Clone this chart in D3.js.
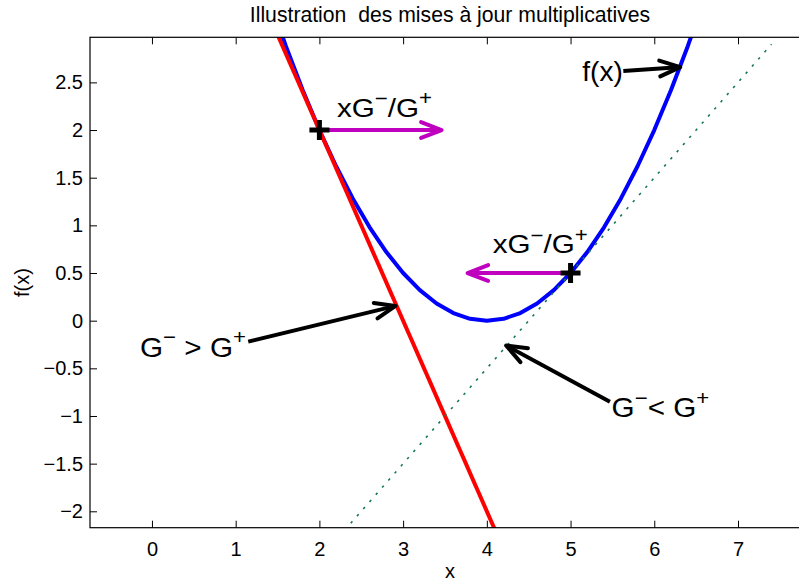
<!DOCTYPE html>
<html>
<head>
<meta charset="utf-8">
<script src="https://cdn.jsdelivr.net/npm/d3@7"></script>
<style>
  html, body { margin: 0; padding: 0; background: #fff; }
  svg { display: block; font-family: "Liberation Sans", Arial, Helvetica, sans-serif; }
  text { white-space: pre; }
</style>
</head>
<body>
<svg id="chart" width="799" height="583"></svg>
<script>
// f(x) = (x - 4)^2 / 2 sampled every 0.2
const curveX = [1.4, 1.6, 1.8, 2.0, 2.2, 2.4, 2.6, 2.8, 3.0, 3.2, 3.4, 3.6, 3.8, 4.0,
                4.2, 4.4, 4.6, 4.8, 5.0, 5.2, 5.4, 5.6, 5.8, 6.0, 6.2, 6.4, 6.6];
const curveY = [3.38, 2.88, 2.42, 2.0, 1.62, 1.28, 0.98, 0.72, 0.5, 0.32, 0.18, 0.08, 0.02, 0,
                0.02, 0.08, 0.18, 0.32, 0.5, 0.72, 0.98, 1.28, 1.62, 2.0, 2.42, 2.88, 3.38];

// tangent at x = 2 (slope -2) and tangent at x = 5 (slope 1)
const tangentLeftX = [1.0, 4.5];
const tangentLeftY = [4.0, -3.0];
const tangentRightX = [2.0, 7.4];
const tangentRightY = [-2.5, 2.9];

// current points
const pointX = [2, 5];
const pointY = [2, 0.5];

// multiplicative step arrows [x1, y1, x2, y2]
const stepArrows = [[2.0, 2.0, 3.46, 2.0], [5.0, 0.5, 3.77, 0.5]];
// pointer arrows [x1, y1, x2, y2]
const pointerArrows = [[5.63, 2.62, 6.31, 2.66], [1.15, -0.22, 2.91, 0.155], [5.47, -0.85, 4.23, -0.26]];

const xTicks = [0, 1, 2, 3, 4, 5, 6, 7];
const yTicks = [-2, -1.5, -1, -0.5, 0, 0.5, 1, 1.5, 2, 2.5];

const titleText = "Illustration  des mises à jour multiplicatives";
const xLabel = "x";
const yLabel = "f(x)";

// text annotations: anchor (data units), pieces with superscripts
const smallNotes = [
  { x: 2.21, y: 2.14, parts: [["xG"], ["−", 1], ["/G"], ["+", 1]] },
  { x: 4.07, y: 0.707, parts: [["xG"], ["−", 1], ["/G"], ["+", 1]] }
];
const bigNotes = [
  { x: 5.14, y: 2.515, parts: [["f(x)"]] },
  { x: -0.143, y: -0.378, parts: [["G"], ["−", 1], [" > G"], ["+", 1]] },
  { x: 5.49, y: -1.014, parts: [["G"], ["−", 1], ["< G"], ["+", 1]] }
];

const svg = d3.select("#chart");
const W = 799, H = 583;
const plot = { left: 90, right: 810, top: 37.3, bottom: 527.7 };

const x = d3.scaleLinear().domain([-0.74, 7.86]).range([plot.left, plot.right]);
const y = d3.scaleLinear().domain([-2.172, 2.973]).range([plot.bottom, plot.top]);

svg.append("rect").attr("width", W).attr("height", H).attr("fill", "#fff");

svg.append("defs").append("clipPath").attr("id", "plotClip")
  .append("rect")
  .attr("x", plot.left).attr("y", plot.top)
  .attr("width", plot.right - plot.left).attr("height", plot.bottom - plot.top);

const g = svg.append("g").attr("clip-path", "url(#plotClip)");
const line = d3.line().x(d => x(d[0])).y(d => y(d[1]));

g.append("path")
  .attr("d", line(d3.zip(curveX, curveY)))
  .attr("fill", "none").attr("stroke", "#0000ff").attr("stroke-width", 4)
  .attr("stroke-linejoin", "round");

g.append("path")
  .attr("d", line(d3.zip(tangentLeftX, tangentLeftY)))
  .attr("fill", "none").attr("stroke", "#ff0000").attr("stroke-width", 4);

g.append("path")
  .attr("d", line(d3.zip(tangentRightX, tangentRightY)))
  .attr("fill", "none").attr("stroke", "#157a52").attr("stroke-width", 1.6)
  .attr("stroke-dasharray", "2.5,7");

// arrows drawn as shaft + open chevron head
function drawArrow(parent, a, color) {
  const x1 = x(a[0]), y1 = y(a[1]), x2 = x(a[2]), y2 = y(a[3]);
  const ang = Math.atan2(y2 - y1, x2 - x1);
  const len = 22, spread = 21 * Math.PI / 180;
  const h1 = [x2 - len * Math.cos(ang - spread), y2 - len * Math.sin(ang - spread)];
  const h2 = [x2 - len * Math.cos(ang + spread), y2 - len * Math.sin(ang + spread)];
  const grp = parent.append("g").attr("stroke", color).attr("fill", "none")
    .attr("stroke-width", 4);
  grp.append("line").attr("x1", x1).attr("y1", y1).attr("x2", x2 - 2 * Math.cos(ang)).attr("y2", y2 - 2 * Math.sin(ang));
  grp.append("path")
    .attr("d", `M${h1[0]},${h1[1]}L${x2},${y2}L${h2[0]},${h2[1]}`)
    .attr("stroke-linejoin", "round").attr("stroke-linecap", "round");
}

stepArrows.forEach(a => drawArrow(svg, a, "#bf00bf"));

// plus markers
const plusSize = 10;
pointX.forEach((px, i) => {
  const cx = x(px), cy = y(pointY[i]);
  svg.append("path")
    .attr("d", `M${cx - plusSize},${cy}H${cx + plusSize}M${cx},${cy - plusSize}V${cy + plusSize}`)
    .attr("stroke", "#000").attr("stroke-width", 5).attr("fill", "none");
});

pointerArrows.forEach(a => drawArrow(svg, a, "#000"));

// axes frame
const frame = svg.append("g").attr("stroke", "#000").attr("stroke-width", 1.2).attr("fill", "none");
frame.append("rect")
  .attr("x", plot.left).attr("y", plot.top)
  .attr("width", plot.right - plot.left).attr("height", plot.bottom - plot.top);

// ticks pointing inward on all sides
const tickLen = 7;
const fmt = d => d3.format("")(d).replace("-", "−");
const xAxisB = d3.axisBottom(x).tickValues(xTicks).tickSize(-tickLen).tickPadding(14).tickFormat(fmt);
const xAxisT = d3.axisTop(x).tickValues(xTicks).tickSize(-tickLen).tickFormat("");
const yAxisL = d3.axisLeft(y).tickValues(yTicks).tickSize(-tickLen).tickPadding(7).tickFormat(fmt);
const yAxisR = d3.axisRight(y).tickValues(yTicks).tickSize(-tickLen).tickFormat("");

function styleAxis(sel) {
  sel.select(".domain").remove();
  sel.selectAll(".tick line").attr("stroke", "#000").attr("stroke-width", 1);
  sel.selectAll(".tick text").attr("fill", "#000").attr("font-size", 20)
    .attr("font-family", "Liberation Sans, Arial, sans-serif");
}
svg.append("g").attr("transform", `translate(0,${plot.bottom})`).call(xAxisB).call(styleAxis);
svg.append("g").attr("transform", `translate(0,${plot.top})`).call(xAxisT).call(styleAxis);
svg.append("g").attr("transform", `translate(${plot.left},0)`).call(yAxisL).call(styleAxis);
svg.append("g").attr("transform", `translate(${plot.right},0)`).call(yAxisR).call(styleAxis);

// title and axis labels
svg.append("text").attr("x", (plot.left + plot.right) / 2).attr("y", 21.5)
  .attr("text-anchor", "middle").attr("font-size", 21.2).text(titleText);
svg.append("text").attr("x", (plot.left + plot.right) / 2).attr("y", 578)
  .attr("text-anchor", "middle").attr("font-size", 20).text(xLabel);
svg.append("text").attr("transform", `translate(29,${(plot.top + plot.bottom) / 2}) rotate(-90)`)
  .attr("text-anchor", "middle").attr("font-size", 20).text(yLabel);

// annotations with superscripts, slightly widened like the TeX renderer
function drawNote(n, size, widen) {
  const px = x(n.x), py = y(n.y);
  const t = svg.append("text")
    .attr("transform", `translate(${px},${py}) scale(${widen},1)`)
    .attr("font-size", size);
  let shift = 0;
  n.parts.forEach(p => {
    const sup = p[1] === 1;
    const target = sup ? -0.45 * size : 0;
    t.append("tspan")
      .attr("dy", target - shift)
      .attr("font-size", sup ? size * 0.75 : size)
      .text(p[0]);
    shift = target;
  });
}
smallNotes.forEach(n => drawNote(n, 26, 1.14));
drawNote(bigNotes[0], 28, 1.0);
bigNotes.slice(1).forEach(n => drawNote(n, 28, 1.06));
</script>
</body>
</html>
